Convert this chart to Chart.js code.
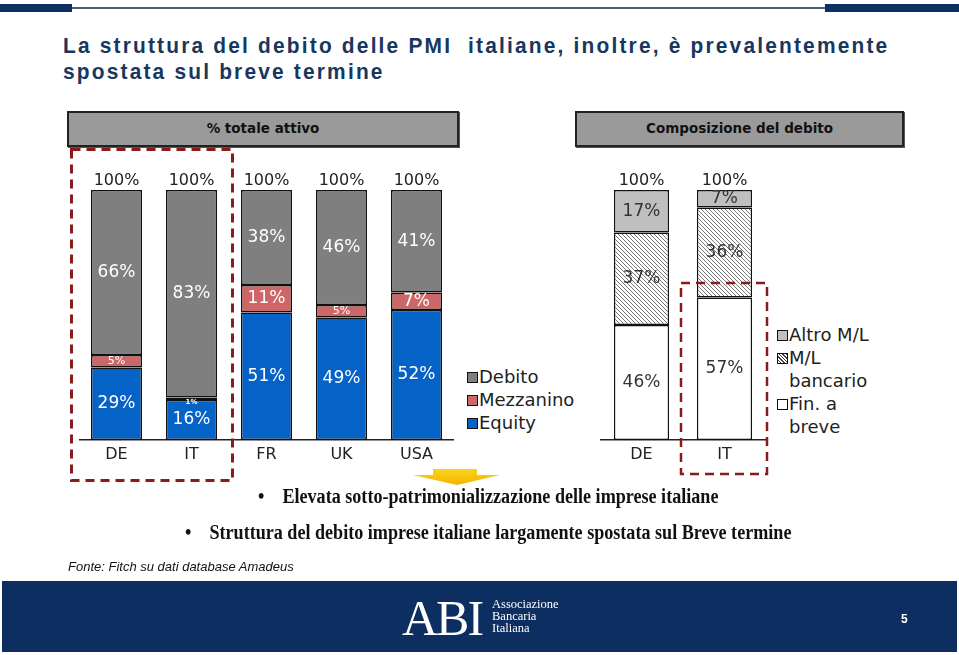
<!DOCTYPE html>
<html>
<head>
<meta charset="utf-8">
<script src="https://cdn.jsdelivr.net/npm/chart.js@4.4.1/dist/chart.umd.min.js"></script>
<style>
  body { margin: 0; width: 959px; height: 655px; background: #fff; position: relative; overflow: hidden; font-family: "DejaVu Sans", sans-serif; }
  .abs { position: absolute; }
  .bar-top { background: #0c2e60; height: 8px; top: 4px; }
  .title { left: 63px; top: 33px; font-family: "Liberation Sans", sans-serif; font-weight: bold; font-size: 22px; letter-spacing: 2.3px; line-height: 26px; color: #17375e; white-space: nowrap; transform: scaleX(0.95); transform-origin: 0 0; }
  .hdr { background: #9a9a9a; border: 2px solid #222; box-shadow: 1px 1px 0 #555; font-family: "DejaVu Sans", sans-serif; font-weight: bold; font-size: 13.5px; color: #111; text-align: center; line-height: 31px; }
  .legend { font-size: 18px; color: #222; line-height: 23px; }
  .legend .it { position: relative; padding-left: 13px; }
  .legend .sw { position: absolute; left: 1px; top: 7px; width: 9px; height: 9px; border: 1.5px solid #111; }
  .bullet { font-family: "Liberation Serif", serif; font-weight: bold; font-size: 20px; color: #111; white-space: nowrap; transform: scaleX(0.905); transform-origin: 0 0; }
  .fonte { left: 68px; top: 559px; font-family: "Liberation Sans", sans-serif; font-style: italic; font-size: 13px; color: #111; }
  .footer { left: 2px; top: 581px; width: 955px; height: 71px; background: #0c2e60; }
</style>
</head>
<body>
<script>
// ---- data ----
const leftCats = ["DE", "IT", "FR", "UK", "USA"];
const equity = [29, 16, 51, 49, 52];
const mezzanino = [5, 1, 11, 5, 7];
const debito = [66, 83, 38, 46, 41];

const rightCats = ["DE", "IT"];
const finBreve = [46, 57];
const mlBancario = [37, 36];
const altroML = [17, 7];
</script>

<div class="abs bar-top" style="left:0;width:72px"></div>
<div class="abs" style="left:72px;top:7px;width:753px;height:2px;background:#4a5f80"></div>
<div class="abs bar-top" style="left:825px;width:134px"></div>

<div class="abs title">La struttura del debito delle PMI&nbsp; italiane, inoltre, è prevalentemente<br>spostata sul breve termine</div>

<div class="abs hdr" style="left:67px;top:111px;width:388px;height:32px">% totale attivo</div>
<div class="abs hdr" style="left:575px;top:111px;width:325px;height:32px">Composizione del debito</div>

<div class="abs" style="left:79px;top:160px;width:375px;height:305px"><canvas id="leftChart" width="375" height="305"></canvas></div>
<div class="abs" style="left:600px;top:160px;width:166px;height:305px"><canvas id="rightChart" width="166" height="305"></canvas></div>

<div class="abs legend" style="left:466px;top:365px">
  <div class="it"><span class="sw" style="background:#7f7f7f"></span>Debito</div>
  <div class="it"><span class="sw" style="background:#cd6667"></span>Mezzanino</div>
  <div class="it"><span class="sw" style="background:#0563c8"></span>Equity</div>
</div>
<div class="abs legend" style="left:776px;top:323px">
  <div class="it"><span class="sw" style="background:#bfbfbf"></span>Altro M/L</div>
  <div class="it"><span class="sw" id="hatchSw" style="background:#fff"></span>M/L<br>bancario</div>
  <div class="it"><span class="sw" style="background:#fff"></span>Fin. a<br>breve</div>
</div>

<svg class="abs" style="left:0;top:0" width="959" height="655">
  <defs>
    <linearGradient id="ylw" x1="0" y1="0" x2="0" y2="1">
      <stop offset="0" stop-color="#ffd21a"/>
      <stop offset="1" stop-color="#f2b400"/>
    </linearGradient>
  </defs>
  <rect x="71.5" y="149.5" width="161" height="331" fill="none" stroke="#8b1a1a" stroke-width="3" stroke-dasharray="9 6"/>
  <rect x="681" y="283" width="86" height="191" fill="none" stroke="#8b1a1a" stroke-width="2.5" stroke-dasharray="9 6"/>
  <polygon points="433,469 477,469 477,475 500,475 457,485 413,475 433,475" fill="url(#ylw)"/>
</svg>

<div class="abs bullet" style="left:258px;top:485px">•&nbsp;&nbsp;&nbsp;&nbsp;Elevata sotto-patrimonializzazione delle imprese italiane</div>
<div class="abs bullet" style="left:185px;top:521px">•&nbsp;&nbsp;&nbsp;&nbsp;Struttura del debito imprese italiane largamente spostata sul Breve termine</div>

<div class="abs fonte">Fonte: Fitch su dati database Amadeus</div>

<div class="abs footer">
  <div class="abs" style="left:400px;top:12px;font-family:'Liberation Serif',serif;font-size:50px;line-height:50px;color:#fff;letter-spacing:-2px">ABI</div>
  <div class="abs" style="left:490px;top:17px;font-family:'Liberation Serif',serif;font-size:12.5px;line-height:12px;color:#fff">Associazione<br>Bancaria<br>Italiana</div>
  <div class="abs" style="left:899px;top:31px;font-family:'Liberation Sans',sans-serif;font-weight:bold;font-size:12px;color:#fff">5</div>
</div>

<script>
function makeHatch() {
  const c = document.createElement("canvas");
  c.width = 4; c.height = 4;
  const g = c.getContext("2d");
  g.fillStyle = "#fff";
  g.fillRect(0, 0, 4, 4);
  g.strokeStyle = "#555";
  g.lineWidth = 0.8;
  g.beginPath();
  g.moveTo(-1, -1); g.lineTo(5, 5);
  g.moveTo(-1, 3); g.lineTo(1, 5);
  g.moveTo(3, -1); g.lineTo(5, 1);
  g.stroke();
  return g.createPattern(c, "repeat");
}

// draws value labels inside each segment and the total on top
const segmentLabels = {
  id: "segmentLabels",
  afterDatasetsDraw(chart, args, opts) {
    const ctx = chart.ctx;
    ctx.save();
    ctx.textAlign = "center";
    ctx.textBaseline = "middle";
    const n = chart.data.labels.length;
    chart.data.datasets.forEach((ds, i) => {
      const meta = chart.getDatasetMeta(i);
      meta.data.forEach((bar, j) => {
        const h = Math.abs(bar.base - bar.y);
        const size = h < 6 ? 7 : h < 15 ? 11 : 17;
        ctx.font = (h < 6 ? "bold " : "") + size + "px 'DejaVu Sans'";
        ctx.fillStyle = opts.color;
        ctx.fillText(ds.data[j] + "%", bar.x, (bar.y + bar.base) / 2 + (h < 6 ? 3 : 0));
      });
    });
    const last = chart.getDatasetMeta(chart.data.datasets.length - 1);
    ctx.font = "16px 'DejaVu Sans'";
    ctx.fillStyle = "#222";
    for (let j = 0; j < n; j++) {
      const total = chart.data.datasets.reduce((s, ds) => s + ds.data[j], 0);
      ctx.fillText(total + "%", last.data[j].x, last.data[j].y - 9);
    }
    ctx.restore();
  }
};

function stackedOptions(labelColor) {
  return {
    responsive: false,
    animation: false,
    devicePixelRatio: 1,
    layout: { padding: { top: 30 } },
    plugins: {
      legend: { display: false },
      tooltip: { enabled: false },
      segmentLabels: { color: labelColor }
    },
    scales: {
      x: {
        stacked: true,
        grid: { display: false, drawTicks: false },
        border: { display: true, color: "#222", width: 1.5 },
        ticks: { color: "#222", padding: 5, font: { family: "DejaVu Sans", size: 16 } },
        afterFit(scale) { scale.height = 25; }
      },
      y: { stacked: true, min: 0, max: 100, display: false }
    }
  };
}

function barSet(label, data, color, pct) {
  return {
    label, data,
    backgroundColor: color,
    borderColor: "#111",
    borderWidth: 1.5,
    borderSkipped: false,
    barPercentage: pct,
    categoryPercentage: 1.0
  };
}

document.addEventListener("DOMContentLoaded", () => {
  const hatch = makeHatch();
  document.getElementById("hatchSw").style.background =
    "repeating-linear-gradient(45deg, #fff 0 1.5px, #444 1.5px 2.5px)";

  new Chart(document.getElementById("leftChart"), {
    type: "bar",
    data: {
      labels: leftCats,
      datasets: [
        barSet("Equity", equity, "#0563c8", 0.68),
        barSet("Mezzanino", mezzanino, "#cd6667", 0.68),
        barSet("Debito", debito, "#7f7f7f", 0.68)
      ]
    },
    options: stackedOptions("#fff"),
    plugins: [segmentLabels]
  });

  new Chart(document.getElementById("rightChart"), {
    type: "bar",
    data: {
      labels: rightCats,
      datasets: [
        barSet("Fin. a breve", finBreve, "#fff", 0.665),
        barSet("M/L bancario", mlBancario, hatch, 0.665),
        barSet("Altro M/L", altroML, "#bfbfbf", 0.665)
      ]
    },
    options: stackedOptions("#333"),
    plugins: [segmentLabels]
  });
});
</script>
</body>
</html>
